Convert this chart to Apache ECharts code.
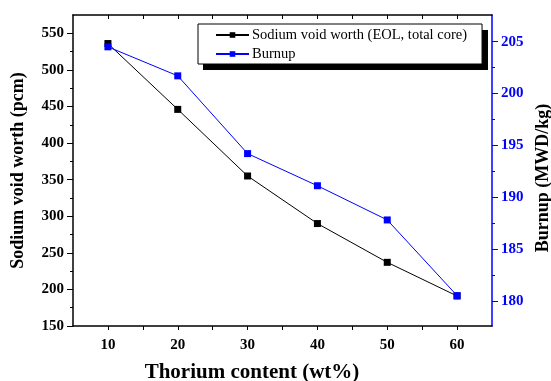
<!DOCTYPE html>
<html>
<head>
<meta charset="utf-8">
<script src="https://cdn.jsdelivr.net/npm/echarts@6/dist/echarts.min.js"></script>
<style>
  html, body { margin: 0; padding: 0; background: #fff; }
  #chart { width: 551px; height: 381px; }
</style>
</head>
<body>
<div id="chart"></div>
<script>
// data
const thorium = [10, 20, 30, 40, 50, 60];
const sodiumVoid = [536, 446, 355, 290, 237, 191];
const burnup = [204.5, 201.7, 194.2, 191.1, 187.8, 180.5];

// ticks
const xTicks = [10, 15, 20, 25, 30, 35, 40, 45, 50, 55, 60];
const xLabels = [10, 20, 30, 40, 50, 60];
const leftTicks = [150, 200, 250, 300, 350, 400, 450, 500, 550];
const leftMinor = [175, 225, 275, 325, 375, 425, 475, 525];
const rightTicks = [180, 185, 190, 195, 200, 205];
const rightMinor = [182.5, 187.5, 192.5, 197.5, 202.5];

const serif = "'Liberation Serif', 'Times New Roman', serif";
const blue = "#0000ff";

const chart = echarts.init(document.getElementById("chart"));

const labelStyle = { fontFamily: serif, fontWeight: "bold", fontSize: 15 };

chart.setOption({
  backgroundColor: "#fff",
  animation: false,
  grid: { left: 73, right: 59, top: 15, bottom: 55, outerBoundsMode: "none" },
  // drop shadow behind the legend box
  graphic: [
    {
      type: "rect",
      left: 203,
      top: 30,
      z: 0,
      zlevel: 0,
      shape: { width: 285, height: 40 },
      style: { fill: "#000" }
    }
  ],
  legend: {
    orient: "vertical",
    left: 198,
    top: 24,
    z: 10,
    padding: [3, 15, 2, 17],
    itemGap: 3,
    itemWidth: 33,
    itemHeight: 7,
    backgroundColor: "#fff",
    borderColor: "#000",
    borderWidth: 1,
    borderRadius: 0,
    textStyle: { fontFamily: serif, fontSize: 14.5, color: "#000", lineHeight: 16, padding: [0, 0, 0, -2] },
    data: ["Sodium void worth (EOL, total core)", "Burnup"]
  },
  xAxis: [
    {
      type: "value",
      min: 5,
      max: 65,
      position: "bottom",
      name: "Thorium content (wt%)",
      nameLocation: "middle",
      nameGap: 36,
      nameTextStyle: { fontFamily: serif, fontWeight: "bold", fontSize: 21, color: "#000", padding: [0, 61, 0, 0] },
      axisLine: { lineStyle: { color: "#000", width: 1.5 } },
      axisTick: { customValues: xTicks, length: 4, lineStyle: { color: "#000" } },
      axisLabel: Object.assign({ customValues: xLabels, margin: 12, color: "#000" }, labelStyle),
      splitLine: { show: false }
    },
    {
      type: "value",
      min: 5,
      max: 65,
      position: "top",
      axisLine: { lineStyle: { color: "#000", width: 1.5 } },
      axisTick: { customValues: xTicks, inside: true, length: 4, lineStyle: { color: "#000" } },
      axisLabel: { show: false },
      splitLine: { show: false }
    }
  ],
  yAxis: [
    {
      type: "value",
      min: 150,
      max: 575,
      position: "left",
      name: "Sodium void worth (pcm)",
      nameLocation: "middle",
      nameRotate: 90,
      nameGap: 46,
      nameTextStyle: { fontFamily: serif, fontWeight: "bold", fontSize: 18, color: "#000" },
      axisLine: { show: true, lineStyle: { color: "#000", width: 1.5 } },
      axisTick: { show: true, customValues: leftTicks, length: 6, lineStyle: { color: "#000" } },
      axisLabel: Object.assign({ customValues: leftTicks, margin: 9, color: "#000" }, labelStyle),
      splitLine: { show: false }
    },
    {
      type: "value",
      min: 177.57,
      max: 207.57,
      position: "right",
      name: "Burnup (MWD/kg)",
      nameLocation: "middle",
      nameRotate: 90,
      nameGap: 42,
      nameTextStyle: { fontFamily: serif, fontWeight: "bold", fontSize: 18, color: "#000", padding: [0, 15, 0, 0] },
      axisLine: { show: true, lineStyle: { color: blue, width: 1.5 } },
      axisTick: { show: true, customValues: rightTicks, length: 6, lineStyle: { color: blue } },
      axisLabel: Object.assign({ customValues: rightTicks, margin: 9, color: blue }, labelStyle),
      splitLine: { show: false }
    },
    {
      type: "value",
      min: 150,
      max: 575,
      position: "left",
      axisLine: { show: false },
      axisTick: { show: true, customValues: leftMinor, length: 3, lineStyle: { color: "#000" } },
      axisLabel: { show: false },
      splitLine: { show: false }
    },
    {
      type: "value",
      min: 177.57,
      max: 207.57,
      position: "right",
      axisLine: { show: false },
      axisTick: { show: true, customValues: rightMinor, length: 3, lineStyle: { color: blue } },
      axisLabel: { show: false },
      splitLine: { show: false }
    }
  ],
  series: [
    {
      name: "Sodium void worth (EOL, total core)",
      type: "line",
      xAxisIndex: 0,
      yAxisIndex: 0,
      symbol: "rect",
      symbolSize: 7,
      itemStyle: { color: "#000" },
      lineStyle: { color: "#000", width: 1 },
      data: thorium.map((t, i) => [t, sodiumVoid[i]])
    },
    {
      name: "Burnup",
      type: "line",
      xAxisIndex: 0,
      yAxisIndex: 1,
      symbol: "rect",
      symbolSize: 7,
      itemStyle: { color: blue },
      lineStyle: { color: blue, width: 1 },
      data: thorium.map((t, i) => [t, burnup[i]])
    }
  ]
});
</script>
</body>
</html>
